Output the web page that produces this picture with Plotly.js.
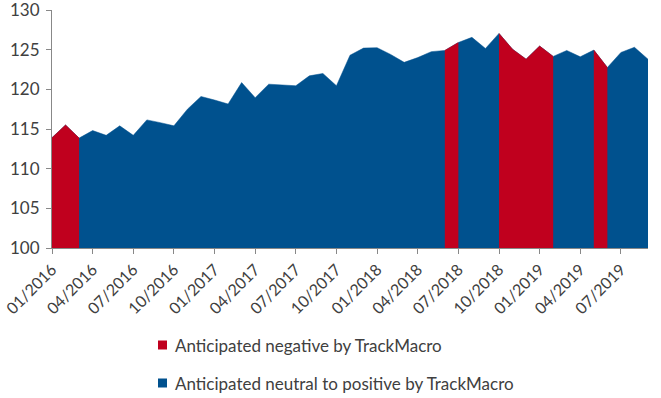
<!DOCTYPE html>
<html>
<head>
<meta charset="utf-8">
<script src="https://cdn.plot.ly/plotly-3.0.1.min.js"></script>
<style>html,body{margin:0;padding:0;background:#fff;}#chart{width:661px;height:398px;}</style>
</head>
<body>
<div id="chart"></div>
<script>
var months = ["01/2016","02/2016","03/2016","04/2016","05/2016","06/2016","07/2016","08/2016","09/2016","10/2016","11/2016","12/2016",
"01/2017","02/2017","03/2017","04/2017","05/2017","06/2017","07/2017","08/2017","09/2017","10/2017","11/2017","12/2017",
"01/2018","02/2018","03/2018","04/2018","05/2018","06/2018","07/2018","08/2018","09/2018","10/2018","11/2018","12/2018",
"01/2019","02/2019","03/2019","04/2019","05/2019","06/2019","07/2019","08/2019","09/2019"];
var values = [113.9,115.5,113.85,114.8,114.2,115.4,114.2,116.15,115.8,115.4,117.5,119.1,
118.65,118.15,120.85,118.95,120.65,120.55,120.45,121.7,122.0,120.45,124.3,125.2,
125.25,124.4,123.4,124.0,124.75,124.9,125.9,126.55,125.15,127.05,125.05,123.8,
125.45,124.15,124.9,124.1,124.95,122.75,124.65,125.3,123.8];
var tickLabels = ["01/2016","04/2016","07/2016","10/2016","01/2017","04/2017","07/2017","10/2017","01/2018","04/2018","07/2018","10/2018","01/2019","04/2019","07/2019"];
var yTicks = [100, 105, 110, 115, 120, 125, 130];
// periods anticipated negative [startIndex, endIndex] (inclusive); the rest is neutral/positive
var negativeSegments = [[0,2],[29,30],[33,37],[40,41]];
var negName = "Anticipated negative by TrackMacro";
var posName = "Anticipated neutral to positive by TrackMacro";
var red = "#C0001E", blue = "#00518E";

// neutral/positive area underneath, negative periods drawn over it
var traces = [{
  type: "scatter", mode: "lines", name: posName,
  x: months, y: values, fill: "tozeroy", fillcolor: blue,
  line: {color: blue, width: 0.5}, showlegend: false, hoverinfo: "x+y"
}];
negativeSegments.forEach(function(seg){
  traces.push({
    type: "scatter", mode: "lines", name: negName,
    x: months.slice(seg[0], seg[1] + 1),
    y: values.slice(seg[0], seg[1] + 1),
    fill: "tozeroy", fillcolor: red,
    line: {color: red, width: 0.5},
    showlegend: false, hoverinfo: "x+y"
  });
});

// legend drawn below the plot (paper coords relative to plot area 52..648 x 10..248)
var legendItems = [{name: negName, color: red}, {name: posName, color: blue}];
var plotL = 52, plotW = 596, plotB = 248, plotH = 238;
function px2x(px){ return (px - plotL) / plotW; }
function px2y(py){ return (plotB - py) / plotH; }
var shapes = [], annotations = [];
legendItems.forEach(function(item, k){
  var cy = 345 + k * 38;
  shapes.push({type: "rect", xref: "paper", yref: "paper",
    x0: px2x(158), x1: px2x(167), y0: px2y(cy - 4.5), y1: px2y(cy + 4.5),
    fillcolor: item.color, line: {width: 0}});
  annotations.push({xref: "paper", yref: "paper", x: px2x(173), y: px2y(cy),
    xanchor: "left", yanchor: "middle", showarrow: false, text: item.name,
    font: {family: "Lato, 'Open Sans', sans-serif", size: 17, color: "#404040"}});
});

var font = {family: "Lato, 'Open Sans', sans-serif", size: 16, color: "#404040"};
var layout = {
  width: 661, height: 398,
  margin: {l: 52, r: 13, t: 10, b: 150},
  paper_bgcolor: "#fff", plot_bgcolor: "#fff",
  font: font,
  showlegend: false,
  shapes: shapes, annotations: annotations,
  xaxis: {
    type: "category", categoryorder: "array", categoryarray: months,
    range: [0, months.length - 1], automargin: false,
    tickmode: "array", tickvals: tickLabels, ticktext: tickLabels,
    tickangle: -45, ticks: "outside", ticklen: 5, tickcolor: "#888",
    showline: true, linecolor: "#888", linewidth: 1,
    showgrid: false, zeroline: false, ticklabeloverflow: "allow",
    tickfont: {family: font.family, size: 16, color: "#404040"}
  },
  yaxis: {
    range: [100, 130], automargin: false,
    tickmode: "array", tickvals: yTicks, ticktext: yTicks.map(String),
    ticks: "outside", ticklen: 5, tickcolor: "#888",
    showline: true, linecolor: "#888", linewidth: 1,
    showgrid: false, zeroline: false, ticklabeloverflow: "allow",
    ticklabelstandoff: 3,
    tickfont: {family: font.family, size: 17, color: "#404040"}
  }
};
Plotly.newPlot("chart", traces, layout, {displayModeBar: false, staticPlot: true});
</script>
</body>
</html>
